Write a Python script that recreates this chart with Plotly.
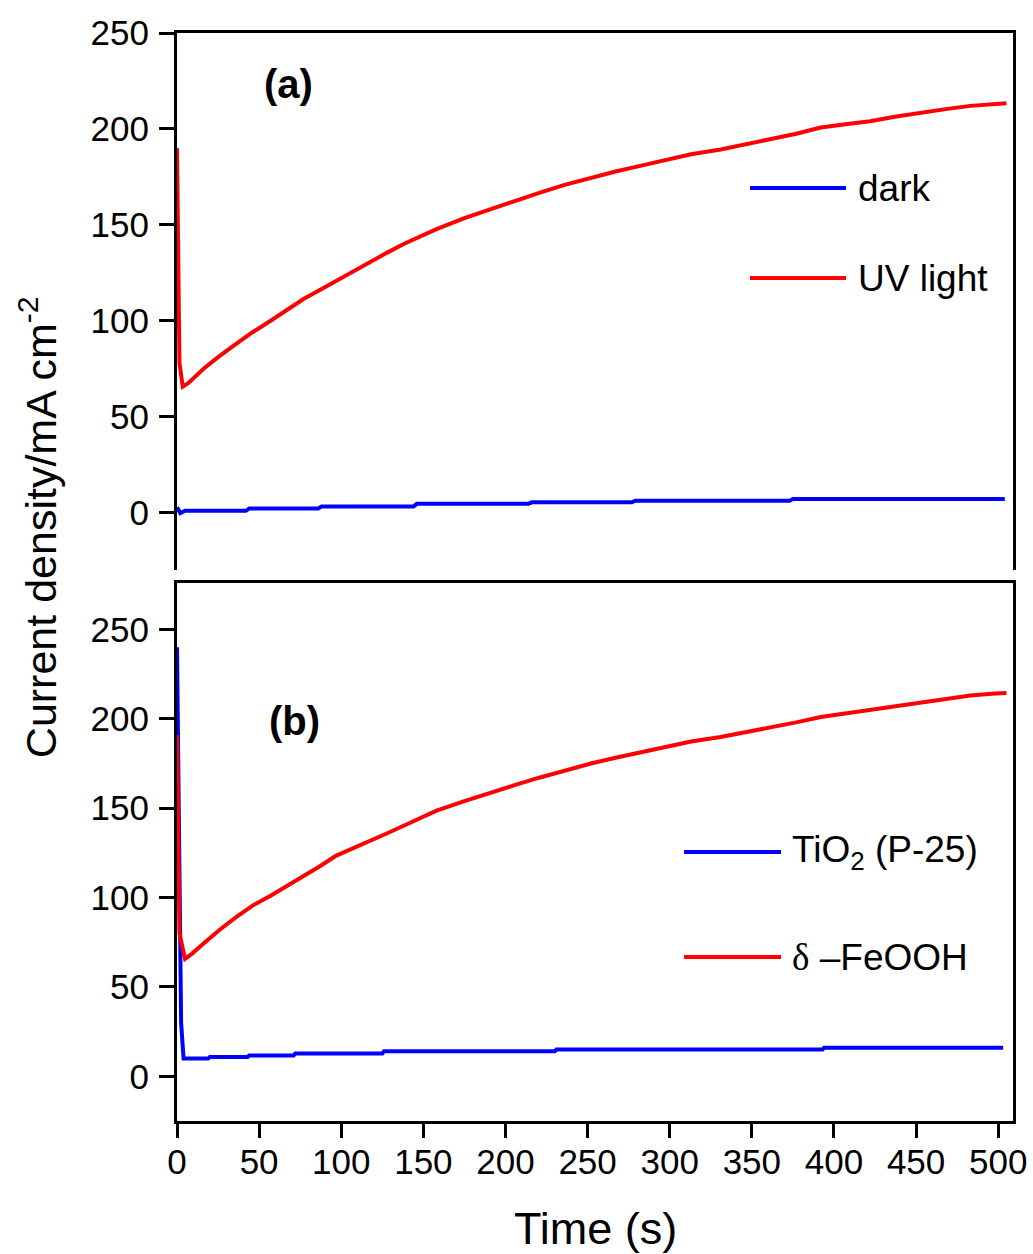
import plotly.graph_objects as go

# ---------------- data ----------------
# Panel (a)
t_uv = [0, 1.5, 3.5, 7, 16, 25, 36, 46, 57, 67, 77, 87, 97, 108, 118, 128, 138, 148, 158,
        175, 191, 206, 221, 236, 252, 267, 282, 297, 313, 331, 346, 361, 377, 392, 407,
        422, 437, 453, 468, 483, 498, 505]
j_uv = [190, 78, 65.6, 67.5, 74.8, 81, 87.9, 94, 100, 105.5, 111.3, 116, 120.8, 126, 131.2,
        135.5, 140, 144, 147.7, 153.5, 158.2, 162.5, 166.8, 170.8, 174.6, 177.8, 180.7,
        183.8, 186.8, 189.3, 191.8, 194.6, 197.5, 200.7, 202.4, 204, 206.3, 208.5, 210.3,
        212, 213.2, 213.4]

t_dark = [0, 2, 5, 42, 44, 86, 88, 144, 146, 214, 216, 277, 279, 373, 375, 504]
j_dark = [2.8, -0.3, 0.9, 0.9, 2.1, 2.1, 3.1, 3.1, 4.5, 4.5, 5.3, 5.3, 6.1, 6.1, 7.1, 7.1]

# Panel (b)
t_fe = [0, 1.5, 4.9, 9, 16, 26, 36, 46, 57, 67, 77, 87, 97, 108, 118, 128, 138, 148, 158,
        175, 191, 206, 221, 236, 252, 267, 282, 297, 313, 331, 346, 361, 377, 392, 407,
        422, 437, 453, 468, 483, 498, 505]
j_fe = [191, 80, 65.7, 68.5, 74.1, 82, 89, 95.5, 101, 106.5, 111.4, 117.5, 123.5, 127.8,
        131.8, 136, 140.2, 144.5, 148.6, 154, 158.8, 163, 167.2, 171.2, 175, 178.2, 181.2,
        184.3, 187.3, 189.8, 192.3, 195.2, 198, 201, 203, 205, 207.2, 209.3, 211.2, 213,
        214.2, 214.5]

t_tio2 = [0, 1, 2.5, 4, 19, 20, 43, 44, 71, 72, 125, 126, 230, 231, 393, 394, 503]
j_tio2 = [240, 150, 30, 10, 10, 10.8, 10.8, 11.7, 11.7, 12.7, 12.7, 14, 14, 15, 15, 16, 16]

x_ticks = [0, 50, 100, 150, 200, 250, 300, 350, 400, 450, 500]
y_ticks = [0, 50, 100, 150, 200, 250]

legend_a = ["dark", "UV light"]
legend_b = ["TiO<sub>2</sub> (P-25)",
            "<span style='font-family:Liberation Serif'>δ</span> –FeOOH"]
panel_labels = ["(a)", "(b)"]
x_title = "Time (s)"
y_title = "Current density/mA cm<sup>-2</sup>"

BLUE = "#0000FF"
RED = "#FF0000"
FONT = "Liberation Sans, Arial, sans-serif"
LW = 4

fig = go.Figure()
fig.add_trace(go.Scatter(x=t_dark, y=j_dark, mode="lines", name=legend_a[0],
                         line=dict(color=BLUE, width=LW), xaxis="x2", yaxis="y",
                         showlegend=False))
fig.add_trace(go.Scatter(x=t_uv, y=j_uv, mode="lines", name=legend_a[1],
                         line=dict(color=RED, width=LW), xaxis="x2", yaxis="y",
                         showlegend=False))
fig.add_trace(go.Scatter(x=t_tio2, y=j_tio2, mode="lines", name="TiO2 (P-25)",
                         line=dict(color=BLUE, width=LW), xaxis="x", yaxis="y2",
                         showlegend=False))
fig.add_trace(go.Scatter(x=t_fe, y=j_fe, mode="lines", name="δ-FeOOH",
                         line=dict(color=RED, width=LW), xaxis="x", yaxis="y2",
                         showlegend=False))

axis_common = dict(showgrid=False, zeroline=False, linecolor="black", linewidth=3,
                   automargin=False,
                   tickfont=dict(family=FONT, size=35, color="black"))

fig.update_layout(
    width=1033, height=1254,
    margin=dict(l=177, r=20, t=33, b=133),
    plot_bgcolor="white", paper_bgcolor="white",
    font=dict(family=FONT, color="black"),
    # bottom panel x axis (with labels)
    xaxis=dict(domain=[0, 1], anchor="y2", range=[0, 509], tickvals=x_ticks,
               showline=True, mirror=True, ticks="outside", ticklen=14, tickwidth=3,
               tickcolor="black", ticklabelstandoff=-6, **axis_common),
    # top panel x axis: only a top border line
    xaxis2=dict(domain=[0, 1], anchor="y", range=[0, 509], matches="x", side="top",
                showline=True, showticklabels=False, ticks="", **axis_common),
    yaxis=dict(domain=[0.5064, 1], anchor="x2", range=[-30, 250], tickvals=y_ticks,
               showline=True, mirror=True, ticks="outside", ticklen=15, tickwidth=3,
               tickcolor="black", ticklabelstandoff=3, **axis_common),
    yaxis2=dict(domain=[0, 0.4945], anchor="x", range=[-25, 276], tickvals=y_ticks,
                showline=True, mirror=True, ticks="outside", ticklen=15, tickwidth=3,
                tickcolor="black", ticklabelstandoff=3, **axis_common),
)

# legend-like keys (manual, to reproduce the long sample lines)
legend_rows = [
    (legend_a[0], BLUE, 0.6854, 0.8002, 0.8122, 0.8575),
    (legend_a[1], RED, 0.6854, 0.8002, 0.8122, 0.7748),
    (legend_b[0], BLUE, 0.6065, 0.7225, 0.7333, 0.2472),
    (legend_b[1], RED, 0.6065, 0.7225, 0.7333, 0.1507),
]
for text, col, x0, x1, xt, yy in legend_rows:
    fig.add_shape(type="line", xref="paper", yref="paper", x0=x0, x1=x1, y0=yy, y1=yy,
                  line=dict(color=col, width=LW))
    fig.add_annotation(text=text, xref="paper", yref="paper", x=xt, y=yy,
                       xanchor="left", yanchor="middle", showarrow=False,
                       font=dict(family=FONT, size=37, color="black"))

# panel labels
fig.add_annotation(text="<b>%s</b>" % panel_labels[0], xref="paper", yref="paper",
                   x=0.1328, y=0.9531, xanchor="center", yanchor="middle", showarrow=False,
                   font=dict(family=FONT, size=40, color="black"))
fig.add_annotation(text="<b>%s</b>" % panel_labels[1], xref="paper", yref="paper",
                   x=0.1411, y=0.3676, xanchor="center", yanchor="middle", showarrow=False,
                   font=dict(family=FONT, size=40, color="black"))

# axis titles
fig.add_annotation(text=x_title, xref="paper", yref="paper", x=0.501, y=-0.099,
                   xanchor="center", yanchor="middle", showarrow=False,
                   font=dict(family=FONT, size=45, color="black"))
fig.add_annotation(text=y_title, xref="paper", yref="paper", x=-0.166, y=0.546,
                   xanchor="center", yanchor="middle", showarrow=False, textangle=-90,
                   font=dict(family=FONT, size=43, color="black"))

fig.write_html("out.html")
